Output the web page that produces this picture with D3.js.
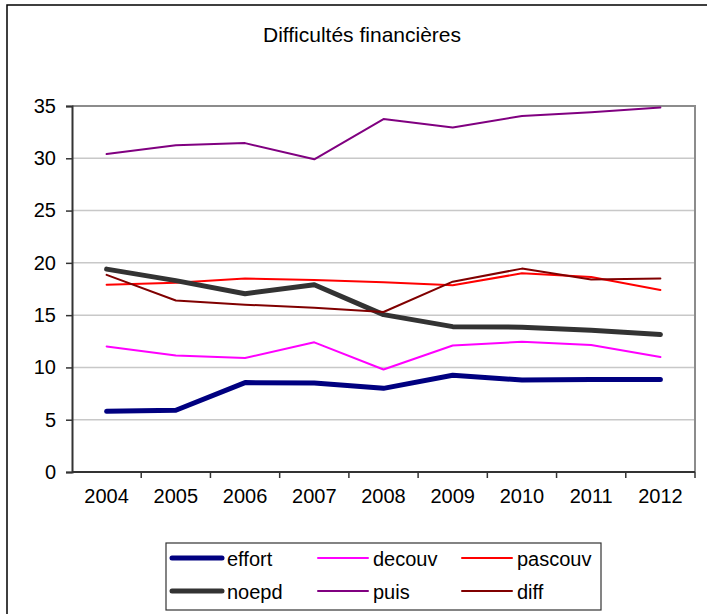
<!DOCTYPE html>
<html>
<head>
<meta charset="utf-8">
<script src="https://cdn.jsdelivr.net/npm/d3@7"></script>
<style>
  html, body { margin: 0; padding: 0; background: #fff; }
  svg { display: block; font-family: "Liberation Sans", Arial, sans-serif; }
</style>
</head>
<body>
<svg id="chart" width="707" height="614"></svg>
<script>
// Années et séries (en %)
const years = ["2004", "2005", "2006", "2007", "2008", "2009", "2010", "2011", "2012"];
const effort  = [5.8, 5.9, 8.55, 8.5, 8.0, 9.25, 8.8, 8.85, 8.85];
const decouv  = [12.0, 11.15, 10.9, 12.4, 9.8, 12.1, 12.45, 12.15, 11.0];
const pascouv = [17.9, 18.1, 18.5, 18.35, 18.15, 17.85, 19.0, 18.65, 17.4];
const noepd   = [19.4, 18.3, 17.05, 17.9, 15.05, 13.9, 13.85, 13.55, 13.15];
const puis    = [30.4, 31.25, 31.45, 29.9, 33.75, 32.95, 34.05, 34.4, 34.85];
const diff    = [18.85, 16.4, 16.0, 15.7, 15.3, 18.2, 19.45, 18.4, 18.5];
const yTicks  = [0, 5, 10, 15, 20, 25, 30, 35];

const series = [
  { name: "effort",  values: effort,  color: "#000080", width: 5 },
  { name: "decouv",  values: decouv,  color: "#ff00ff", width: 2 },
  { name: "pascouv", values: pascouv, color: "#ff0000", width: 2 },
  { name: "noepd",   values: noepd,   color: "#333333", width: 5 },
  { name: "puis",    values: puis,    color: "#800080", width: 2 },
  { name: "diff",    values: diff,    color: "#800000", width: 2 }
];

const svg = d3.select("#chart");
const plot = { left: 72, right: 695, top: 106, bottom: 472 };

// Cadre extérieur
svg.append("rect")
  .attr("x", 7).attr("y", 5).attr("width", 720).attr("height", 640)
  .attr("fill", "none").attr("stroke", "#000").attr("stroke-width", 1.5);

// Titre
svg.append("text")
  .attr("x", 362).attr("y", 42)
  .attr("text-anchor", "middle")
  .attr("font-size", 21).attr("fill", "#000")
  .text("Difficultés financières");

const x = d3.scaleBand().domain(years).range([plot.left, plot.right]);
const y = d3.scaleLinear().domain([0, 35]).range([plot.bottom, plot.top]);

// Grille horizontale
svg.append("g")
  .selectAll("line")
  .data(yTicks.filter(t => t > 0 && t < 35))
  .join("line")
  .attr("x1", plot.left).attr("x2", plot.right)
  .attr("y1", d => y(d)).attr("y2", d => y(d))
  .attr("stroke", "#c8c8c8").attr("stroke-width", 1.5);

// Bordures haut et droite du tracé
svg.append("path")
  .attr("d", `M${plot.left},${plot.top}H${plot.right}V${plot.bottom}`)
  .attr("fill", "none").attr("stroke", "#8c8c8c").attr("stroke-width", 2);

// Axe Y
const yAxis = svg.append("g")
  .attr("transform", `translate(${plot.left},0)`)
  .call(d3.axisLeft(y).tickValues(yTicks).tickSize(6).tickPadding(10).tickFormat(d3.format("d")));
yAxis.select(".domain").attr("stroke", "#333").attr("stroke-width", 2);
yAxis.selectAll(".tick line").attr("stroke", "#333").attr("stroke-width", 1.5);
yAxis.selectAll("text").attr("font-size", 20).attr("fill", "#000")
  .attr("font-family", "Liberation Sans, Arial, sans-serif");

// Axe X : graduations aux limites des catégories
const xAxis = svg.append("g")
  .attr("transform", `translate(0,${plot.bottom})`)
  .call(d3.axisBottom(x).tickSize(0).tickPadding(17));
xAxis.select(".domain").remove();
xAxis.selectAll("text").attr("font-size", 20).attr("fill", "#000")
  .attr("font-family", "Liberation Sans, Arial, sans-serif");
svg.append("line")
  .attr("x1", plot.left).attr("x2", plot.right)
  .attr("y1", plot.bottom).attr("y2", plot.bottom)
  .attr("stroke", "#333").attr("stroke-width", 2);
svg.append("g")
  .selectAll("line")
  .data(years.slice(1).concat(["__end"]))
  .join("line")
  .attr("x1", d => d === "__end" ? plot.right : x(d))
  .attr("x2", d => d === "__end" ? plot.right : x(d))
  .attr("y1", plot.bottom).attr("y2", plot.bottom + 6)
  .attr("stroke", "#333").attr("stroke-width", 1.5);

// Courbes
const line = d3.line()
  .x((d, i) => x(years[i]) + x.bandwidth() / 2)
  .y(d => y(d));

svg.append("g")
  .selectAll("path")
  .data(series)
  .join("path")
  .attr("d", d => line(d.values))
  .attr("fill", "none")
  .attr("stroke", d => d.color)
  .attr("stroke-width", d => d.width)
  .attr("stroke-linecap", "round")
  .attr("stroke-linejoin", "round");

// Légende
const legend = svg.append("g");
legend.append("rect")
  .attr("x", 166).attr("y", 543).attr("width", 435).attr("height", 67)
  .attr("fill", "#fff").attr("stroke", "#333").attr("stroke-width", 1.2);

const colX = [172, 318, 462];
const rowY = [558, 591];
series.forEach((s, i) => {
  const cx = colX[i % 3], cy = rowY[Math.floor(i / 3)];
  legend.append("line")
    .attr("x1", cx).attr("x2", cx + 50)
    .attr("y1", cy).attr("y2", cy)
    .attr("stroke", s.color).attr("stroke-width", s.width)
    .attr("stroke-linecap", "round");
  legend.append("text")
    .attr("x", cx + 55).attr("y", cy + 8)
    .attr("font-size", 20).attr("fill", "#000")
    .text(s.name);
});
</script>
</body>
</html>
